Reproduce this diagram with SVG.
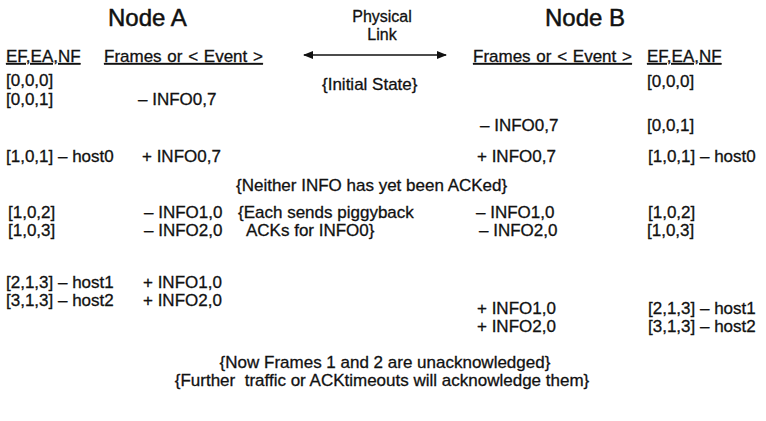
<svg xmlns="http://www.w3.org/2000/svg" width="766" height="421" viewBox="0 0 766 421">
  <defs>
    <style>
      text { font-family: "Liberation Sans", Arial, sans-serif; fill: #111; stroke: #111; stroke-width: 0.3px; }
      .t { font-size: 17px; }
      .title { font-size: 24px; stroke-width: 0.5px; }
      .hd { font-size: 17px; text-decoration: underline; word-spacing: 1px; }
      .lbl { font-size: 16px; }
      .mid { text-anchor: middle; }
      .pre { white-space: pre; }
      .conn { stroke: #111; stroke-width: 1.6; fill: none; }
    </style>
    <marker id="ah" viewBox="0 0 10 8" refX="9" refY="4" markerWidth="10" markerHeight="8" markerUnits="userSpaceOnUse" orient="auto-start-reverse">
      <path d="M0,0 L10,4 L0,8 z" fill="#111"/>
    </marker>
  </defs>
  <rect width="766" height="421" fill="#ffffff"/>

  <g id="nodeA">
    <text class="title" x="108" y="26">Node A</text>
    <text class="hd" x="6" y="62">EF,EA,NF</text>
    <text class="hd" x="104" y="62">Frames or &lt; Event &gt;</text>
  </g>

  <g id="nodeB">
    <text class="title" x="545" y="26">Node B</text>
    <text class="hd" x="473" y="62">Frames or &lt; Event &gt;</text>
    <text class="hd" x="647" y="62">EF,EA,NF</text>
  </g>

  <g id="link-label">
    <text class="lbl mid" x="382" y="22">Physical</text>
    <text class="lbl mid" x="382" y="40">Link</text>
  </g>

  <g id="connectors">
    <line class="conn" x1="304" y1="55" x2="446" y2="55" marker-start="url(#ah)" marker-end="url(#ah)"/>
  </g>

  <g id="nodeA-rows">
    <text class="t" x="6" y="86">[0,0,0]</text>
    <text class="t" x="6" y="105">[0,0,1]</text>
    <text class="t" x="138" y="105">– INFO0,7</text>
    <text class="t" x="6" y="162">[1,0,1] – host0</text>
    <text class="t" x="142" y="162">+ INFO0,7</text>
    <text class="t" x="8" y="218">[1,0,2]</text>
    <text class="t" x="144" y="218">– INFO1,0</text>
    <text class="t" x="8" y="236">[1,0,3]</text>
    <text class="t" x="144" y="236">– INFO2,0</text>
    <text class="t" x="6" y="288">[2,1,3] – host1</text>
    <text class="t" x="143" y="288">+ INFO1,0</text>
    <text class="t" x="6" y="306">[3,1,3] – host2</text>
    <text class="t" x="143" y="306">+ INFO2,0</text>
  </g>

  <g id="nodeB-rows">
    <text class="t" x="647" y="87">[0,0,0]</text>
    <text class="t" x="480" y="131">– INFO0,7</text>
    <text class="t" x="647" y="131">[0,0,1]</text>
    <text class="t" x="477" y="162">+ INFO0,7</text>
    <text class="t" x="648" y="162">[1,0,1] – host0</text>
    <text class="t" x="476" y="218">– INFO1,0</text>
    <text class="t" x="648" y="218">[1,0,2]</text>
    <text class="t" x="479" y="236">– INFO2,0</text>
    <text class="t" x="647" y="236">[1,0,3]</text>
    <text class="t" x="477" y="314">+ INFO1,0</text>
    <text class="t" x="648" y="314">[2,1,3] – host1</text>
    <text class="t" x="477" y="332">+ INFO2,0</text>
    <text class="t" x="648" y="332">[3,1,3] – host2</text>
  </g>

  <g id="notes">
    <text class="t" x="322" y="90">{Initial State}</text>
    <text class="t" x="236" y="191">{Neither INFO has yet been ACKed}</text>
    <text class="t" x="238" y="218">{Each sends piggyback</text>
    <text class="t" x="246" y="236">ACKs for INFO0}</text>
    <text class="t mid" x="385" y="368">{Now Frames 1 and 2 are unacknowledged}</text>
    <text class="t mid pre" x="382" y="386">{Further  traffic or ACKtimeouts will acknowledge them}</text>
  </g>
</svg>
